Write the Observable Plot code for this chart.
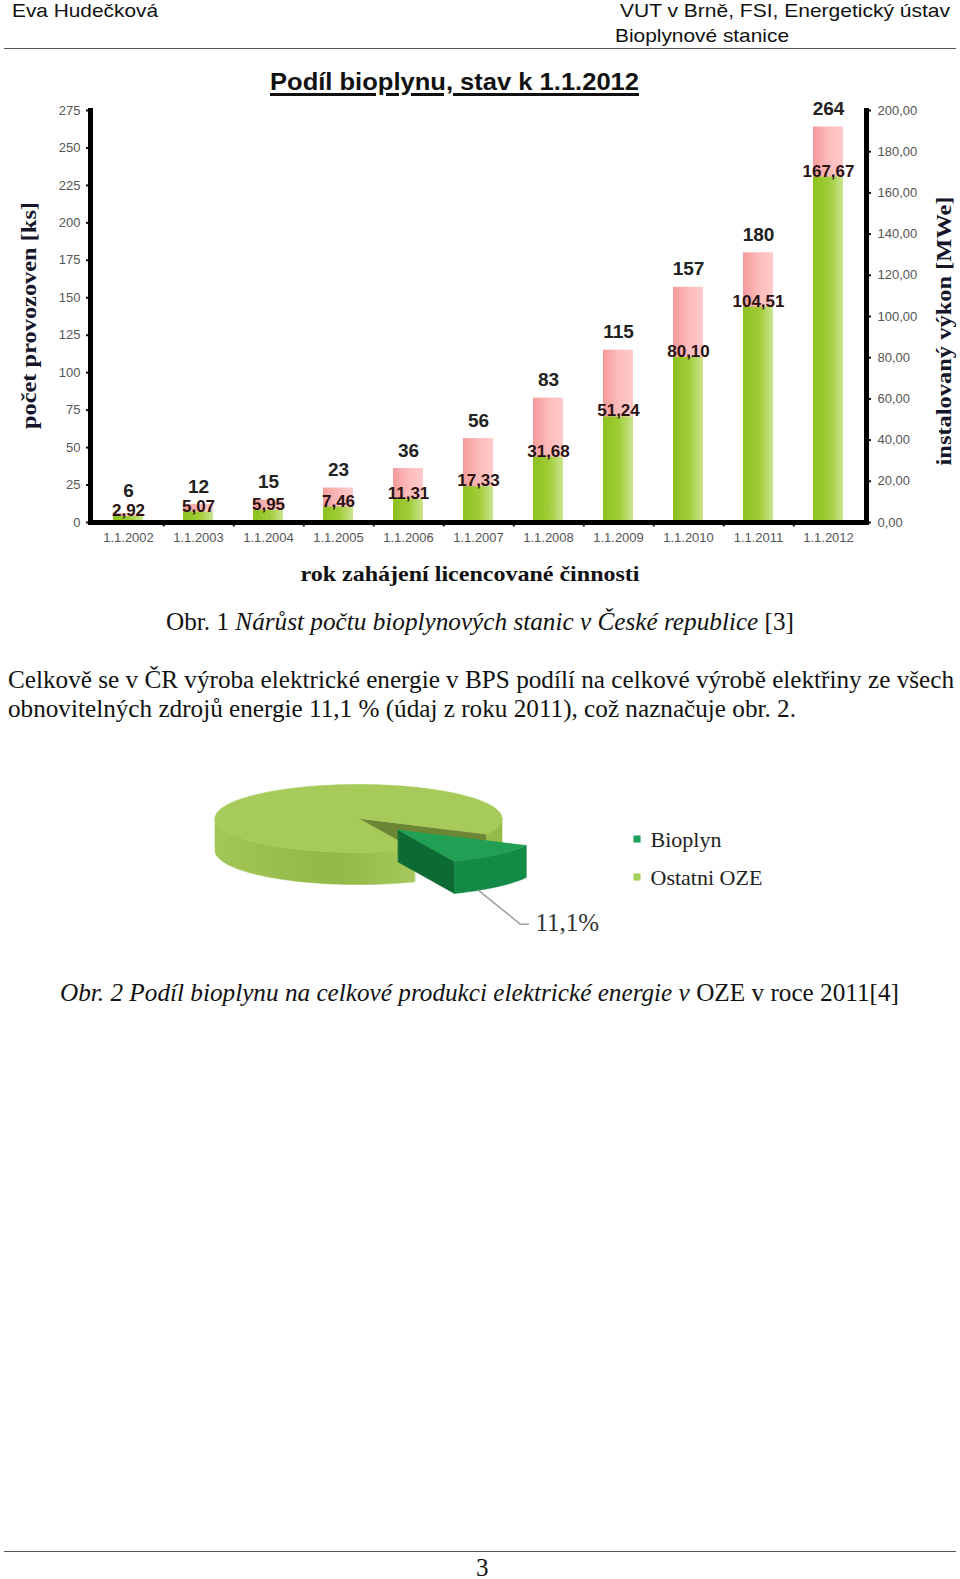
<!DOCTYPE html>
<html><head><meta charset="utf-8">
<script src="https://cdn.jsdelivr.net/npm/d3@7"></script>
<script src="https://cdn.jsdelivr.net/npm/@observablehq/plot@0.6"></script>
<style>
body{margin:0;background:#fff;}
#page{position:relative;width:960px;height:1579px;overflow:hidden;background:#fff;color:#111;}
.abs{position:absolute;white-space:nowrap;line-height:1;}
.sans{font-family:"Liberation Sans",Arial,sans-serif;}
.serif{font-family:"Liberation Serif","Times New Roman",serif;}
.hr{position:absolute;height:0;border-top:1.6px solid #555;}
svg{position:absolute;overflow:visible;}
</style></head>
<body><div id="page"></div>
<script>
// ---------- data ----------
const years = ["1.1.2002","1.1.2003","1.1.2004","1.1.2005","1.1.2006","1.1.2007","1.1.2008","1.1.2009","1.1.2010","1.1.2011","1.1.2012"];
const counts = [6, 12, 15, 23, 36, 56, 83, 115, 157, 180, 264];
const powerMW = [2.92, 5.07, 5.95, 7.46, 11.31, 17.33, 31.68, 51.24, 80.10, 104.51, 167.67];
const leftTicks = [0, 25, 50, 75, 100, 125, 150, 175, 200, 225, 250, 275];
const rightTicks = [0, 20, 40, 60, 80, 100, 120, 140, 160, 180, 200];
const pieLabels = ["Bioplyn", "Ostatni OZE"];
const pieShares = [11.1, 88.9];
const pieLabelText = "11,1%";

const page = document.getElementById("page");

// ---------- page text helper ----------
function place(html, {x, y, w, size, cls, style = ""}) {
  const d = document.createElement("div");
  d.className = "abs " + cls;
  d.innerHTML = html;
  d.style.fontSize = size + "px";
  if (style) d.style.cssText += style;
  page.appendChild(d);
  const r = d.getBoundingClientRect();
  const s = w ? w / r.width : 1;
  d.style.left = x + "px";
  d.style.top = (y - r.height / 2) + "px";
  d.style.transformOrigin = "0 50%";
  d.style.transform = `scaleX(${s})`;
  return d;
}
function hr(x1, x2, y) {
  const d = document.createElement("div");
  d.className = "hr";
  d.style.left = x1 + "px"; d.style.width = (x2 - x1) + "px"; d.style.top = y + "px";
  page.appendChild(d);
}

// header
place("Eva Hudečková", {x: 12, y: 10.5, w: 146, size: 19, cls: "sans"});
place("VUT v Brně, FSI, Energetický ústav", {x: 620, y: 10.5, w: 330, size: 19, cls: "sans"});
place("Bioplynové stanice", {x: 615, y: 35, w: 174, size: 19, cls: "sans"});
hr(4, 956, 47.5);

// ---------- bar chart ----------
const k = 275 / 200; // MW -> ks axis
const rows = years.map((y, i) => ({year: y, count: counts[i], mw: powerMW[i]}));
const step = (866 - 90) / years.length;
const fmtMW = v => v.toFixed(2).replace(".", ",");
const leftTitle = "počet provozoven [ks]", rightTitle = "instalovaný výkon [MWe]", xTitle = "rok zahájení licencované činnosti";
const L = {left: 227, right: 269, x: 339};

const bar = Plot.plot({
  width: 960, height: 510,
  marginTop: 20, marginBottom: 78, marginLeft: 90, marginRight: 94,
  style: {background: "transparent", overflow: "visible", fontFamily: "Liberation Sans, Arial, sans-serif"},
  x: {domain: years, paddingInner: 0.575, paddingOuter: 0.2875, label: null},
  y: {domain: [0, 275], label: null},
  marks: [
    Plot.barY(rows, {x: "year", y: "count", fill: "url(#gPink)"}),
    Plot.barY(rows, {x: "year", y: d => d.mw * k, fill: "url(#gGreen)"}),
    Plot.axisY(leftTicks, {anchor: "left", tickSize: 4, tickPadding: 6, fontSize: 13, fill: "#555", stroke: "#111", strokeWidth: 2, label: null}),
    Plot.axisY(rightTicks.map(v => v * k), {anchor: "right", tickSize: 4, tickPadding: 7, fontSize: 13, fill: "#555", stroke: "#111", strokeWidth: 2, tickFormat: d => fmtMW(d / k), label: null}),
    Plot.axisX({tickSize: 0, tickPadding: 10, fontSize: 13, fill: "#555", label: null}),
    Plot.ruleX(years.slice(0, -1), {x: d => d, dx: step / 2, y1: 0, y2: -3, stroke: "#111", strokeWidth: 2}),
    Plot.frame({anchor: "left", strokeWidth: 5, stroke: "#000"}),
    Plot.frame({anchor: "right", strokeWidth: 5, stroke: "#000"}),
    Plot.ruleY([0], {strokeWidth: 5, stroke: "#000"}),
    Plot.text(rows, {x: "year", y: d => Math.max(d.count, d.mw * k + 5), text: d => String(d.count), dy: -18, fontSize: 19, fontWeight: "bold", fill: "#222"}),
    Plot.text(rows, {x: "year", y: d => d.mw * k, text: d => fmtMW(d.mw), dy: -6, fontSize: 17, fontWeight: "bold", fill: "#2a1212"}),
    Plot.text([leftTitle], {frameAnchor: "left", textAnchor: "start", dx: -61.5, dy: -1 + L.left / 2, rotate: -90, fontSize: 22, fontWeight: "bold", fontFamily: "Liberation Serif, serif", fill: "#16162a"}),
    Plot.text([rightTitle], {frameAnchor: "right", textAnchor: "start", dx: 77, dy: 14.5 + L.right / 2, rotate: -90, fontSize: 22, fontWeight: "bold", fontFamily: "Liberation Serif, serif", fill: "#16162a"}),
    Plot.text([xTitle], {frameAnchor: "bottom", textAnchor: "start", dx: -8.5 - L.x / 2, dy: 58, fontSize: 21, fontWeight: "bold", fontFamily: "Liberation Serif, serif", fill: "#111"})
  ]
});
bar.style.left = "0px"; bar.style.top = "90px";
page.appendChild(bar);

const NS = "http://www.w3.org/2000/svg";
function addGrad(svg, id, stops) {
  let defs = svg.querySelector("defs");
  if (!defs) { defs = document.createElementNS(NS, "defs"); svg.insertBefore(defs, svg.firstChild); }
  const g = document.createElementNS(NS, "linearGradient");
  g.setAttribute("id", id); g.setAttribute("x1", "0"); g.setAttribute("x2", "1"); g.setAttribute("y1", "0"); g.setAttribute("y2", "0");
  stops.forEach(([o, c]) => { const s = document.createElementNS(NS, "stop"); s.setAttribute("offset", o); s.setAttribute("stop-color", c); g.appendChild(s); });
  defs.appendChild(g);
}
addGrad(bar, "gPink", [[0, "#f49a9a"], [0.5, "#fdbaba"], [1, "#ffcaca"]]);
addGrad(bar, "gGreen", [[0, "#8bc11d"], [0.55, "#a2cd3a"], [1, "#cbe590"]]);
// fit axis titles to the reference lengths
function fitText(svg, str, len) {
  svg.querySelectorAll("text").forEach(t => { if (t.textContent === str) { t.setAttribute("textLength", len); t.setAttribute("lengthAdjust", "spacingAndGlyphs"); } });
}
fitText(bar, leftTitle, L.left);
fitText(bar, rightTitle, L.right);
fitText(bar, xTitle, L.x);

place("Podíl bioplynu, stav k 1.1.2012", {x: 270, y: 82, w: 369, size: 24, cls: "sans",
  style: "font-weight:bold;text-decoration:underline;text-decoration-thickness:3px;text-underline-offset:3px;"});

// captions & paragraph
place("Obr. 1 <i>Nárůst počtu bioplynových stanic v České republice</i> [3]", {x: 166, y: 621, w: 628, size: 25, cls: "serif"});
place("Celkově se v ČR výroba elektrické energie v BPS podílí na celkové výrobě elektřiny ze všech", {x: 8, y: 679, w: 946, size: 25, cls: "serif"});
place("obnovitelných zdrojů energie 11,1 % (údaj z roku 2011), což naznačuje obr. 2.", {x: 8, y: 708, w: 788, size: 25, cls: "serif"});
place("<i>Obr. 2 Podíl bioplynu na celkové produkci elektrické energie v</i> OZE v roce 2011[4]", {x: 60, y: 992, w: 839, size: 25, cls: "serif"});
hr(4, 956, 1550.5);
place("3", {x: 476, y: 1567, size: 25, cls: "serif"});

// ---------- 3D pie ----------
const R = {cx: 358, cy: 818, rx: 143.5, ry: 34, depth: 32, explode: 0.44};
const startDeg = 27;
const rad = d => d * Math.PI / 180;
const zero = {dx: 0, dy: 0};
const pt = (deg, o, z) => ({x: R.cx + R.rx * Math.cos(rad(deg)) + o.dx, y: R.cy + R.ry * Math.sin(rad(deg)) + o.dy + z});
const arc = (a0, a1, o, z) => { const n = Math.max(2, Math.ceil(Math.abs(a1 - a0) / 2)); return d3.range(n + 1).map(i => pt(a0 + (a1 - a0) * i / n, o, z)); };
const ctr = (o, z) => ({x: R.cx + o.dx, y: R.cy + o.dy + z});
const wallArc = (a0, a1, o) => [...arc(a0, a1, o, 0), ...arc(a1, a0, o, R.depth)];
const radialWall = (a, o) => [ctr(o, 0), pt(a, o, 0), pt(a, o, R.depth), ctr(o, R.depth)];
const topFace = (a0, a1, o) => [ctr(o, 0), ...arc(a0, a1, o, 0)];

const total = d3.sum(pieShares);
const bio = {a0: startDeg, a1: startDeg + 360 * pieShares[0] / total};
const oth = {a0: bio.a1, a1: startDeg + 360};
const mid = (bio.a0 + bio.a1) / 2 + 4;
const off = {dx: R.explode * R.rx * Math.cos(rad(mid)), dy: R.explode * R.ry * Math.sin(rad(mid))};

const C = {othTop: "#a7cb5b", othWall: "#95bb4a", othCut: "#6b8735", bioTop: "#21a055", bioWall: "#138a45", bioCut: "#0c6a33"};
const poly = (pts, fill) => Plot.line(pts, {x: "x", y: "y", fill, stroke: fill, strokeWidth: 0.6, curve: "linear-closed"});

const leadStart = pt(56, off, R.depth);
const leadElbow = {x: leadStart.x + 42, y: leadStart.y + 34};
const leadEnd = {x: leadElbow.x + 8, y: leadElbow.y};
const legend = pieLabels.map((l, i) => ({label: l, color: i === 0 ? "#1fa05a" : "#a6cf5c", x: 636.5, y: 838.5 + i * 38}));

const pie = Plot.plot({
  width: 960, height: 190,
  margin: 0,
  style: {background: "transparent", overflow: "visible"},
  x: {type: "linear", domain: [0, 960], range: [0, 960], axis: null},
  y: {type: "linear", domain: [760, 950], range: [0, 190], axis: null},
  marks: [
    poly(radialWall(oth.a1, zero), C.othCut),
    poly(wallArc(360, oth.a1, zero), C.othWall),
    poly(wallArc(oth.a0, 180, zero), "url(#gWall)"),
    poly(topFace(oth.a0, oth.a1, zero), C.othTop),
    poly(radialWall(bio.a1, off), C.bioCut),
    poly(wallArc(bio.a0, bio.a1, off), C.bioWall),
    poly(topFace(bio.a0, bio.a1, off), C.bioTop),
    Plot.line([leadStart, leadElbow, leadEnd], {x: "x", y: "y", stroke: "#a0a0a0", strokeWidth: 1.5}),
    Plot.text([pieLabelText], {x: leadEnd.x + 7, y: leadEnd.y - 1, textAnchor: "start", fontSize: 25, fontFamily: "Liberation Serif, serif", fill: "#333"}),
    Plot.dot(legend, {x: "x", y: "y", symbol: "square", r: 4, fill: "color", stroke: null}),
    Plot.text(legend, {x: d => d.x + 13.5, y: d => d.y + 1, text: "label", textAnchor: "start", fontSize: 22, fontFamily: "Liberation Serif, serif", fill: "#222"})
  ]
});
pie.style.left = "0px"; pie.style.top = "760px";
page.appendChild(pie);
addGrad(pie, "gWall", [[0, "#a2c657"], [0.6, "#92b847"], [1, "#a5c95c"]]);
</script>
</body></html>
